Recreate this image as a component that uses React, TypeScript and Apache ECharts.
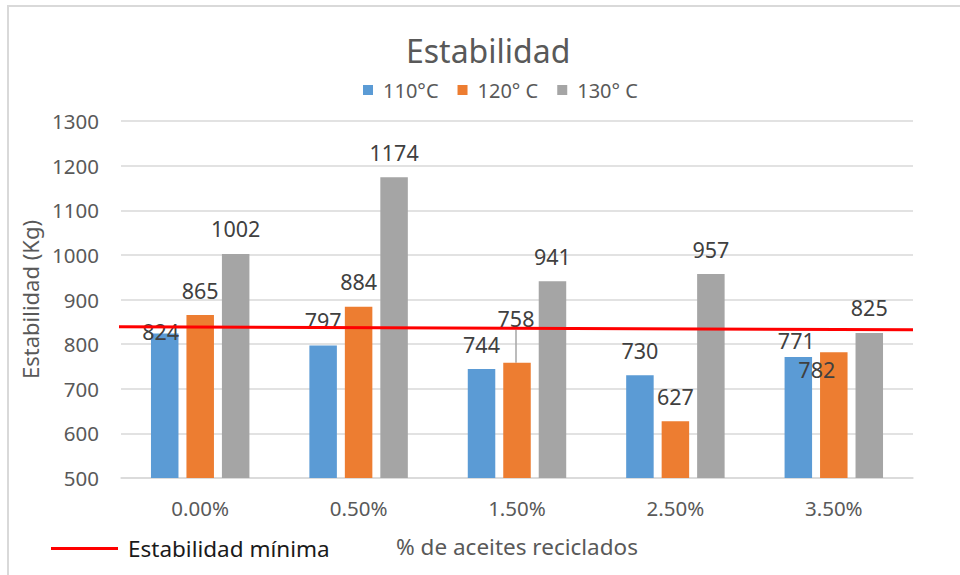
import React, { useEffect, useRef } from "react";
import * as echarts from "echarts";

const categories = ["0.00%", "0.50%", "1.50%", "2.50%", "3.50%"];
const seriesNames = ["110°C", "120° C", "130° C"];
const values110 = [824, 797, 744, 730, 771];
const values120 = [865, 884, 758, 627, 782];
const values130 = [1002, 1174, 941, 957, 825];
const minLineName = "Estabilidad mínima";
const minLineX = [-0.0114, 1];
const minLineY = [839, 832];
const yTicks = { min: 500, max: 1300, step: 100 };

const FONT = "Noto Sans";
const GRAY_TXT = "#595959";
const LABEL_TXT = "#404040";
const colors = ["#5B9BD5", "#ED7D31", "#A5A5A5"];

// manual label nudges (style only) keyed by series index / data index
const labelOffsets: Record<string, [number, number]> = {
  "0-0": [-4, 23],
  "0-4": [-2, 8.5],
  "1-4": [-17, 42.5],
  "1-2": [-1, -19],
};
const leaderLines: Record<string, boolean> = { "1-2": true };

export default function App() {
  const ref = useRef<HTMLDivElement>(null);
  useEffect(() => {
    if (!ref.current) return;
    const chart = echarts.init(ref.current, null, { renderer: "svg" });
    const all = [values110, values120, values130];
    const barSeries = all.map((vals, si) => ({
      name: seriesNames[si],
      type: "bar",
      xAxisIndex: 0,
      barWidth: 27.5,
      barGap: "29%",
      itemStyle: { color: colors[si] },
      label: {
        show: true,
        position: "top",
        distance: 14,
        fontFamily: FONT,
        fontSize: 21.5,
        color: LABEL_TXT,
      },
      labelLine: { show: false, lineStyle: { color: "#A6A6A6", width: 1.5 } },
      labelLayout: (p: any) => {
        const off = labelOffsets[`${si}-${p.dataIndex}`];
        return off ? { dx: off[0], dy: off[1] } : {};
      },
      data: vals.map((v, di) =>
        leaderLines[`${si}-${di}`]
          ? { value: v, labelLine: { show: true, lineStyle: { color: "#A6A6A6", width: 1.5 } } }
          : v
      ),
    }));
    chart.setOption({
      animation: false,
      textStyle: { fontFamily: FONT },
      title: {
        text: "Estabilidad",
        left: 406,
        top: 34,
        padding: 0,
        textStyle: {
          fontFamily: FONT,
          fontSize: 32,
          lineHeight: 32,
          fontWeight: "normal",
          color: GRAY_TXT,
        },
      },
      legend: [
        {
          data: seriesNames,
          left: 363,
          top: 80,
          padding: 0,
          itemWidth: 10,
          itemHeight: 10,
          itemGap: 19,
          icon: "rect",
          textStyle: {
            fontFamily: FONT,
            fontSize: 20,
            color: GRAY_TXT,
            padding: [0, 0, 0, 5],
          },
        },
        {
          data: [{ name: minLineName, icon: "rect" }],
          left: 51,
          top: 537,
          padding: 0,
          itemWidth: 67,
          itemHeight: 3,
          textStyle: {
            fontFamily: FONT,
            fontSize: 22.5,
            color: "#1A1A1A",
            padding: [0, 0, 0, 5],
          },
        },
      ],
      grid: { left: 121, right: 47, top: 121, bottom: 97, containLabel: false },
      xAxis: [
        {
          type: "category",
          data: categories,
          name: "% de aceites reciclados",
          nameLocation: "middle",
          nameGap: 57,
          nameTextStyle: { fontFamily: FONT, fontSize: 22.5, color: GRAY_TXT },
          axisLine: { show: true, lineStyle: { color: "#D9D9D9", width: 1.5 } },
          axisTick: { show: false },
          axisLabel: {
            fontFamily: FONT,
            fontSize: 20.5,
            color: GRAY_TXT,
            margin: 19,
          },
        },
        { type: "value", min: 0, max: 1, show: false },
      ],
      yAxis: {
        type: "value",
        min: yTicks.min,
        max: yTicks.max,
        interval: yTicks.step,
        name: "Estabilidad (Kg)",
        nameLocation: "middle",
        nameGap: 70,
        nameTextStyle: { fontFamily: FONT, fontSize: 22, color: GRAY_TXT },
        axisLine: { show: false },
        axisTick: { show: false },
        axisLabel: {
          fontFamily: FONT,
          fontSize: 20.5,
          color: GRAY_TXT,
          margin: 22,
          formatter: (v: number) => String(v),
        },
        splitLine: { lineStyle: { color: "#D9D9D9", width: 1.5 } },
      },
      graphic: [
        {
          type: "rect",
          shape: { x: 8, y: 6, width: 1000, height: 600 },
          style: { fill: "none", stroke: "#D9D9D9", lineWidth: 2 },
          silent: true,
        },
      ],
      series: [
        ...barSeries,
        {
          name: minLineName,
          type: "line",
          xAxisIndex: 1,
          clip: false,
          symbol: "none",
          lineStyle: { color: "#FF0000", width: 3 },
          itemStyle: { color: "#FF0000" },
          data: minLineX.map((x, i) => [x, minLineY[i]]),
        },
      ],
    });
    return () => chart.dispose();
  }, []);
  return (
    <div
      ref={ref}
      style={{ position: "fixed", left: 0, top: 0, width: 960, height: 575, background: "#fff" }}
    />
  );
}
